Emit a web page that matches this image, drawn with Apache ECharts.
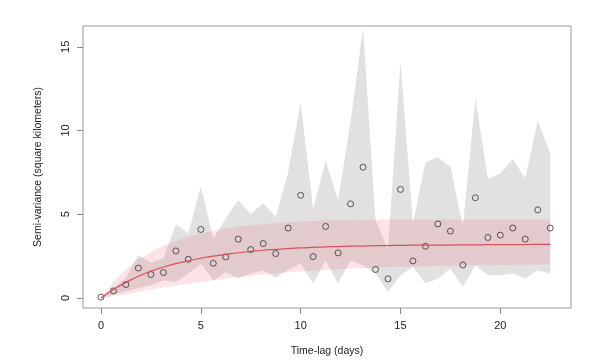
<!DOCTYPE html>
<html>
<head>
<meta charset="utf-8">
<script src="https://cdn.jsdelivr.net/npm/echarts@6/dist/echarts.min.js"></script>
<style>
  html, body { margin: 0; padding: 0; background: #fff; }
  #chart { width: 589px; height: 364px; }
</style>
</head>
<body>
<div id="chart"></div>
<script>
// time lags (days)
const lags = [0, 0.625, 1.25, 1.875, 2.5, 3.125, 3.75, 4.375, 5, 5.625, 6.25, 6.875, 7.5, 8.125, 8.75, 9.375,
  10, 10.625, 11.25, 11.875, 12.5, 13.125, 13.75, 14.375, 15, 15.625, 16.25, 16.875, 17.5, 18.125, 18.75,
  19.375, 20, 20.625, 21.25, 21.875, 22.5]

// empirical semi-variance
const semivar = [0.05, 0.42, 0.80, 1.78, 1.40, 1.52, 2.81, 2.31, 4.09, 2.07, 2.45, 3.51, 2.89, 3.25, 2.65, 4.17,
  6.13, 2.47, 4.27, 2.69, 5.62, 7.81, 1.70, 1.14, 6.48, 2.21, 3.09, 4.42, 3.99, 1.97, 5.98,
  3.61, 3.75, 4.18, 3.51, 5.26, 4.17]

// grey envelope
const greyUpper = [0, 0.6, 1.2, 2.55, 2.1, 2.35, 4.4, 3.85, 6.65, 3.55, 4.75, 5.84, 5.0, 5.66, 4.84, 7.5,
  11.65, 5.3, 8.2, 5.84, 10.5, 16.1, 4.64, 2.85, 14.1, 4.45, 8.1, 8.4, 7.83, 4.24, 11.9,
  7.14, 7.43, 8.3, 7.14, 10.6, 8.63]
const greyLower = [0, 0.2, 0.4, 0.6, 0.76, 1.06, 0.96, 1.46, 2.05, 1.06, 1.55, 1.16, 1.46, 1.66, 1.2, 1.7,
  2.05, 0.86, 2.25, 0.86, 2.25, 1.95, 1.46, 0.36, 1.36, 1.85, 0.86, 1.16, 1.76, 0.66, 1.95,
  1.36, 1.36, 1.46, 1.16, 1.66, 1.46]

// fitted model and its band
const fitted = [0, 0.5, 0.93, 1.3, 1.6, 1.85, 2.05, 2.22, 2.37, 2.5, 2.6, 2.7, 2.78, 2.85, 2.9, 2.95,
  2.99, 3.02, 3.05, 3.07, 3.09, 3.1, 3.12, 3.13, 3.14, 3.15, 3.15, 3.16, 3.16, 3.17, 3.17,
  3.18, 3.18, 3.19, 3.19, 3.2, 3.2]
const pinkUpper = [0, 0.95, 1.7, 2.3, 2.75, 3.1, 3.4, 3.65, 3.85, 4.0, 4.15, 4.25, 4.33, 4.4, 4.47, 4.52,
  4.56, 4.6, 4.62, 4.64, 4.66, 4.67, 4.68, 4.69, 4.69, 4.69, 4.69, 4.69, 4.69, 4.69, 4.69,
  4.69, 4.69, 4.69, 4.69, 4.69, 4.69]
const pinkLower = [0, 0.1, 0.2, 0.35, 0.5, 0.62, 0.75, 0.85, 0.95, 1.05, 1.15, 1.25, 1.33, 1.4, 1.47, 1.53,
  1.58, 1.63, 1.68, 1.72, 1.76, 1.79, 1.82, 1.85, 1.87, 1.89, 1.9, 1.92, 1.93, 1.94, 1.95,
  1.96, 1.97, 1.98, 1.99, 2.0, 2.0]

const xTicks = [0, 5, 10, 15, 20]
const yTicks = [0, 5, 10, 15]

const bandSeries = (upper, lower, fill) => ({
  type: 'custom',
  silent: true,
  data: [[0, 0]],
  renderItem: (params, api) => {
    const pts = []
    for (let i = 0; i < lags.length; i++) pts.push(api.coord([lags[i], upper[i]]))
    for (let i = lags.length - 1; i >= 0; i--) pts.push(api.coord([lags[i], lower[i]]))
    return { type: 'polygon', shape: { points: pts }, style: { fill: fill } }
  }
})

const chart = echarts.init(document.getElementById('chart'))

const font = 'Liberation Sans, Arial, sans-serif'

chart.setOption({
  animation: false,
  grid: {
    left: 83, top: 26, width: 488, height: 282,
    show: true, borderColor: '#9a9a9a', borderWidth: 1, backgroundColor: '#fff'
  },
  xAxis: {
    type: 'value',
    min: -0.9,
    max: 23.54,
    name: 'Time-lag (days)',
    nameLocation: 'middle',
    nameGap: 38,
    nameTextStyle: { color: '#222', fontSize: 10.5, fontFamily: font },
    axisLine: { show: false, onZero: false },
    splitLine: { show: false },
    axisTick: { show: true, inside: false, length: 6, customValues: xTicks, lineStyle: { color: '#888' } },
    axisLabel: { customValues: xTicks, margin: 12, color: '#222', fontSize: 11, fontFamily: font }
  },
  yAxis: {
    type: 'value',
    min: -0.6,
    max: 16.24,
    name: 'Semi-variance (square kilometers)',
    nameLocation: 'middle',
    nameRotate: 90,
    nameGap: 39,
    nameTextStyle: { color: '#222', fontSize: 10.5, fontFamily: font },
    axisLine: { show: false, onZero: false },
    splitLine: { show: false },
    axisTick: { show: true, inside: false, length: 6, customValues: yTicks, lineStyle: { color: '#888' } },
    axisLabel: { customValues: yTicks, rotate: 90, margin: 12, color: '#222', fontSize: 11, fontFamily: font }
  },
  series: [
    bandSeries(greyUpper, greyLower, '#e1e1e1'),
    bandSeries(pinkUpper, pinkLower, 'rgba(230,90,105,0.17)'),
    {
      type: 'line',
      data: lags.map((x, i) => [x, fitted[i]]),
      showSymbol: false,
      smooth: true,
      silent: true,
      lineStyle: { color: '#d9505c', width: 1.2 }
    },
    {
      type: 'scatter',
      data: lags.map((x, i) => [x, semivar[i]]),
      symbol: 'circle',
      symbolSize: 6,
      silent: true,
      itemStyle: { color: 'rgba(0,0,0,0)', borderColor: '#333', borderWidth: 1 }
    }
  ]
})

window.addEventListener('resize', () => chart.resize())
</script>
</body>
</html>
